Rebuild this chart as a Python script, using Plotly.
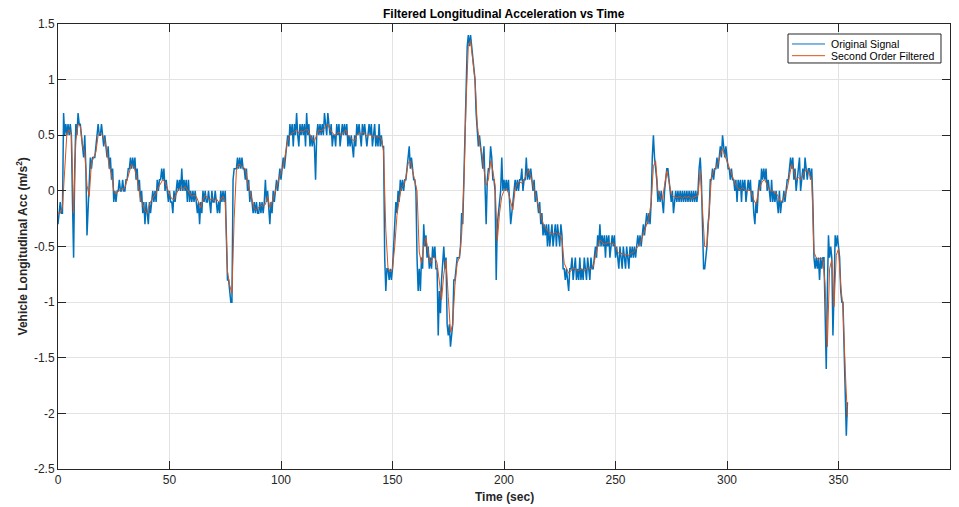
import numpy as np
import plotly.graph_objects as go

# Raw longitudinal acceleration (m/s^2), sampled every 0.5 s
orig_000_100 = [
    -0.3, -0.2, -0.1, -0.2, -0.2, 0.7, 0.5, 0.6, 0.5, 0.6, 0.5, 0.6, 0.5, -0.1, -0.6, 0.2, 0.6, 0.5, 0.7, 0.6,
    0.6, 0.5, 0.4, 0.3, 0.5, 0.2, -0.4, -0.1, 0.1, 0.3, 0.2, 0.3, 0.3, 0.3, 0.4, 0.5, 0.6, 0.5, 0.5, 0.6,
    0.5, 0.4, 0.5, 0.4, 0.3, 0.4, 0.2, 0.3, 0.1, 0.2, -0.1, 0.0, -0.1, 0.0, 0.0, 0.1, 0.0, 0.0, 0.1, 0.0,
    0.0, 0.1, 0.1, 0.2, 0.2, 0.3, 0.2, 0.3, 0.2, 0.3, 0.1, 0.2, 0.0, 0.1, -0.1, 0.0, -0.2, -0.1, -0.3, -0.1,
    -0.2, -0.3, -0.1, -0.2, -0.1, 0.0, -0.1, 0.0, -0.1, 0.1, 0.0, 0.1, 0.1, 0.2, 0.1, 0.2, 0.0, 0.1, 0.0, -0.1,
    0.0, -0.1, -0.1, -0.2, 0.0, -0.1, 0.0, 0.1, 0.0, 0.1, 0.0, 0.2, 0.0, 0.1, 0.0, 0.1, -0.1, 0.1, -0.1, 0.0,
    -0.1, 0.0, -0.1, 0.0, -0.1, -0.2, -0.1, -0.3, -0.1, -0.2, 0.0, -0.1, 0.0, -0.1, -0.1, 0.0, -0.1, -0.2, 0.0, -0.1,
    -0.1, 0.0, -0.1, -0.2, -0.1, -0.2, 0.0, -0.1, 0.0, -0.1, 0.0, -0.6, -0.8, -0.8, -0.9, -1.0, -1.0, 0.1, 0.2, 0.2,
    0.2, 0.3, 0.2, 0.3, 0.2, 0.3, 0.2, 0.2, 0.1, 0.2, 0.0, 0.1, -0.1, 0.0, -0.1, -0.2, -0.1, -0.2, -0.1, -0.2,
    -0.2, -0.1, -0.2, -0.1, -0.2, -0.1, 0.1, -0.1, 0.0, -0.2, -0.3, -0.1, -0.2, 0.0, -0.1, 0.0, 0.1, 0.0, 0.1, 0.2,
]
orig_100_200 = [
    0.1, 0.2, 0.3, 0.2, 0.3, 0.4, 0.5, 0.4, 0.6, 0.5, 0.6, 0.4, 0.6, 0.5, 0.7, 0.5, 0.4, 0.6, 0.5, 0.6,
    0.5, 0.6, 0.4, 0.7, 0.5, 0.6, 0.4, 0.5, 0.4, 0.5, 0.4, 0.1, 0.5, 0.6, 0.5, 0.6, 0.5, 0.6, 0.5, 0.7,
    0.6, 0.5, 0.7, 0.6, 0.5, 0.6, 0.4, 0.5, 0.5, 0.4, 0.6, 0.5, 0.6, 0.4, 0.5, 0.6, 0.5, 0.6, 0.5, 0.6,
    0.4, 0.5, 0.4, 0.5, 0.4, 0.3, 0.5, 0.4, 0.6, 0.5, 0.6, 0.5, 0.4, 0.6, 0.5, 0.6, 0.5, 0.4, 0.5, 0.6,
    0.5, 0.6, 0.4, 0.5, 0.6, 0.4, 0.5, 0.4, 0.6, 0.4, 0.5, 0.4, 0.4, -0.6, -0.9, -0.7, -0.7, -0.8, -0.7, -0.8,
    -0.7, -0.5, -0.3, -0.1, -0.2, 0.0, -0.1, 0.1, 0.0, 0.1, 0.0, 0.1, 0.1, 0.2, 0.3, 0.4, 0.2, 0.3, 0.2, 0.1,
    0.1, 0.0, -0.6, -0.9, -0.7, -0.9, -0.6, -0.7, -0.3, -0.5, -0.4, -0.6, -0.5, -0.7, -0.6, -0.7, -0.5, -0.6, -0.5, -0.7,
    -0.7, -1.3, -0.9, -1.1, -0.8, -0.6, -0.5, -0.7, -0.6, -1.2, -1.3, -1.2, -1.4, -1.3, -1.2, -0.8, -0.8, -0.7, -0.6, -0.6,
    -0.6, -0.5, -0.2, -0.3, 0.1, 0.5, 0.9, 1.3, 1.4, 1.3, 1.4, 1.3, 1.2, 1.1, 1.0, 0.7, 0.5, 0.4, 0.5, 0.4,
    0.3, 0.2, 0.4, 0.1, -0.3, 0.1, 0.2, 0.2, 0.4, 0.3, 0.1, 0.1, 0.0, -0.8, -0.3, -0.2, -0.1, 0.0, 0.3, 0.0,
]
orig_200_300 = [
    0.1, 0.0, 0.1, 0.0, 0.1, -0.1, -0.3, -0.2, -0.1, 0.0, 0.1, 0.0, 0.1, 0.0, 0.1, 0.1, 0.2, 0.0, 0.1, 0.1,
    0.3, 0.1, 0.2, 0.1, 0.2, 0.1, 0.0, 0.1, -0.1, 0.0, -0.1, -0.2, -0.1, -0.3, -0.2, -0.4, -0.3, -0.4, -0.3, -0.5,
    -0.3, -0.5, -0.4, -0.3, -0.5, -0.4, -0.3, -0.5, -0.3, -0.4, -0.5, -0.3, -0.4, -0.7, -0.7, -0.8, -0.7, -0.8, -0.9, -0.7,
    -0.7, -0.6, -0.8, -0.7, -0.6, -0.8, -0.7, -0.8, -0.6, -0.8, -0.7, -0.8, -0.6, -0.7, -0.8, -0.6, -0.7, -0.8, -0.6, -0.7,
    -0.7, -0.6, -0.5, -0.6, -0.4, -0.5, -0.3, -0.5, -0.4, -0.5, -0.4, -0.6, -0.4, -0.5, -0.4, -0.6, -0.5, -0.4, -0.5, -0.4,
    -0.6, -0.5, -0.6, -0.7, -0.5, -0.6, -0.7, -0.5, -0.6, -0.7, -0.5, -0.6, -0.7, -0.5, -0.6, -0.5, -0.6, -0.5, -0.6, -0.5,
    -0.4, -0.5, -0.4, -0.5, -0.4, -0.3, -0.4, -0.3, -0.2, -0.3, -0.2, -0.3, -0.1, 0.3, 0.5, 0.3, 0.2, 0.1, -0.1, 0.0,
    -0.1, 0.0, -0.1, -0.2, 0.0, 0.1, 0.2, 0.2, 0.1, 0.0, -0.1, 0.0, -0.2, -0.1, 0.0, -0.1, 0.0, -0.1, 0.0, -0.1,
    0.0, -0.1, 0.0, -0.1, 0.0, -0.1, 0.0, -0.1, 0.0, -0.1, 0.0, -0.1, 0.0, -0.1, 0.0, 0.2, 0.3, 0.1, -0.3, -0.7,
    -0.7, -0.6, -0.5, -0.3, -0.2, 0.1, 0.1, 0.2, 0.1, 0.2, 0.2, 0.3, 0.2, 0.3, 0.4, 0.3, 0.5, 0.4, 0.3, 0.4,
]
orig_300_354 = [
    0.3, 0.2, 0.2, 0.1, 0.2, 0.1, 0.1, 0.0, 0.1, -0.1, 0.1, 0.0, 0.1, -0.1, 0.1, 0.0, 0.1, -0.1, 0.0, 0.1,
    0.0, 0.1, -0.1, 0.0, -0.2, -0.3, -0.1, -0.2, 0.0, 0.1, 0.0, 0.2, 0.1, 0.2, 0.1, 0.2, 0.0, 0.1, 0.0, -0.1,
    0.1, -0.1, 0.0, -0.1, 0.0, -0.1, -0.2, 0.0, -0.2, -0.1, -0.1, 0.0, -0.1, 0.0, 0.1, 0.1, 0.2, 0.3, 0.2, 0.3,
    0.1, 0.2, 0.0, 0.1, 0.2, 0.3, 0.0, 0.1, 0.2, 0.1, 0.3, 0.2, 0.1, 0.2, 0.2, 0.1, 0.2, -0.1, -0.6, -0.7,
    -0.6, -0.7, -0.6, -0.8, -0.6, -0.7, -0.6, -0.6, -1.0, -1.6, -0.9, -0.4, -0.6, -0.5, -0.6, -1.3, -0.9, -0.4, -0.5, -0.4,
    -0.5, -0.6, -0.9, -1.0, -1.0, -1.5, -2.0, -2.2, -1.9,
]

# Second-order filtered acceleration (m/s^2), one value per second
filt_000_100 = [
    -0.20, -0.20, -0.15, 0.25, 0.52, 0.55, 0.50, -0.20, 0.45, 0.60,
    0.58, 0.40, 0.35, 0.05, -0.05, 0.25, 0.30, 0.35, 0.50, 0.52,
    0.50, 0.45, 0.35, 0.22, 0.15, 0.00, -0.03, 0.00, 0.01, 0.01,
    0.03, 0.10, 0.18, 0.24, 0.22, 0.15, 0.05, -0.08, -0.12, -0.18,
    -0.20, -0.12, -0.08, -0.05, -0.02, 0.03, 0.07, 0.10, 0.08, 0.02,
    -0.03, -0.07, -0.08, -0.03, 0.01, 0.03, 0.02, 0.04, 0.01, -0.03,
    -0.05, -0.04, -0.05, -0.10, -0.15, -0.08, -0.04, -0.06, -0.08, -0.07,
    -0.09, -0.07, -0.10, -0.08, -0.05, -0.10, -0.72, -0.85, -0.92, -0.25,
    0.18, 0.24, 0.23, 0.21, 0.20, 0.08, 0.00, -0.10, -0.16, -0.17,
    -0.15, -0.13, -0.14, -0.12, -0.05, -0.15, -0.10, -0.03, 0.03, 0.10,
]
filt_100_200 = [
    0.17, 0.22, 0.32, 0.45, 0.50, 0.52, 0.53, 0.55, 0.52, 0.54,
    0.53, 0.55, 0.55, 0.50, 0.46, 0.45, 0.50, 0.55, 0.54, 0.55,
    0.58, 0.60, 0.55, 0.52, 0.50, 0.51, 0.53, 0.50, 0.52, 0.55,
    0.50, 0.48, 0.46, 0.45, 0.50, 0.52, 0.51, 0.53, 0.50, 0.49,
    0.51, 0.48, 0.50, 0.48, 0.49, 0.47, 0.35, -0.35, -0.70, -0.73,
    -0.70, -0.50, -0.22, -0.08, 0.03, 0.05, 0.12, 0.25, 0.27, 0.18,
    0.10, 0.00, -0.55, -0.65, -0.50, -0.42, -0.55, -0.65, -0.60, -0.60,
    -0.65, -0.80, -0.98, -0.75, -0.62, -0.95, -1.27, -1.20, -0.85, -0.65,
    -0.60, -0.40, 0.05, 0.80, 1.30, 1.35, 1.20, 1.00, 0.60, 0.42,
    0.35, 0.20, 0.05, 0.10, 0.27, 0.18, 0.05, -0.45, -0.20, -0.05,
]
filt_200_300 = [
    0.00, 0.02, -0.02, -0.10, -0.17, 0.02, 0.07, 0.08, 0.07, 0.10,
    0.15, 0.19, 0.13, 0.05, -0.03, -0.10, -0.18, -0.26, -0.32, -0.35,
    -0.37, -0.38, -0.39, -0.37, -0.39, -0.38, -0.45, -0.65, -0.70, -0.74,
    -0.72, -0.69, -0.70, -0.72, -0.71, -0.70, -0.72, -0.70, -0.69, -0.70,
    -0.68, -0.58, -0.50, -0.44, -0.46, -0.48, -0.47, -0.46, -0.48, -0.47,
    -0.50, -0.55, -0.57, -0.56, -0.58, -0.57, -0.58, -0.56, -0.55, -0.53,
    -0.50, -0.47, -0.42, -0.36, -0.30, -0.24, -0.10, 0.22, 0.27, 0.00,
    -0.05, -0.08, 0.05, 0.18, 0.08, -0.03, -0.05, -0.06, -0.06, -0.05,
    -0.07, -0.05, -0.06, -0.05, -0.07, -0.06, -0.05, -0.04, 0.18, -0.15,
    -0.50, -0.50, -0.22, 0.12, 0.18, 0.22, 0.25, 0.33, 0.38, 0.32,
]
filt_300_354 = [
    0.26, 0.20, 0.15, 0.10, 0.05, 0.02, 0.01, 0.03, 0.01, 0.00,
    0.01, -0.02, -0.08, -0.12, -0.02, 0.05, 0.09, 0.10, 0.05, 0.01,
    0.00, -0.01, -0.02, -0.05, -0.10, -0.08, -0.04, 0.02, 0.15, 0.24,
    0.18, 0.10, 0.12, 0.10, 0.14, 0.18, 0.19, 0.15, 0.10, -0.55,
    -0.60, -0.62, -0.60, -0.62, -0.85, -1.40, -0.70, -0.62, -1.04, -0.58,
    -0.52, -0.85, -1.05, -1.60, -2.03,
]

x_ticks = [0, 50, 100, 150, 200, 250, 300, 350, 400]
y_ticks = [-2.5, -2, -1.5, -1, -0.5, 0, 0.5, 1, 1.5]
y_tick_text = ["-2.5", "-2", "-1.5", "-1", "-0.5", "0", "0.5", "1", "1.5"]
series_names = ["Original Signal", "Second Order Filtered"]

orig = orig_000_100 + orig_100_200 + orig_200_300 + orig_300_354
filt = filt_000_100 + filt_100_200 + filt_200_300 + filt_300_354
t_orig = np.arange(len(orig)) * 0.5
t_filt = np.arange(len(filt)) * 1.0

FONT = "Liberation Sans, Arial, Helvetica, sans-serif"
INK = "#262626"
GRID = "#e3e3e3"
BLUE = "#0072BD"
ORANGE = "#D95319"

fig = go.Figure()
fig.add_trace(go.Scatter(
    x=t_orig, y=orig, mode="lines", name=series_names[0],
    line=dict(color=BLUE, width=1.5), showlegend=False,
))
fig.add_trace(go.Scatter(
    x=t_filt, y=filt, mode="lines", name=series_names[1],
    line=dict(color=ORANGE, width=1), showlegend=False,
))

axis_common = dict(
    showline=True, linecolor=INK, linewidth=1, mirror="ticks",
    ticks="inside", ticklen=8, tickcolor=INK, tickwidth=1,
    showgrid=True, gridcolor=GRID, gridwidth=1, zeroline=False,
    tickfont=dict(family=FONT, size=12, color=INK),
)

# Compact boxed legend in the upper-right corner of the axes (paper coords)
leg_x0, leg_x1 = 0.8184, 0.9899
leg_y0, leg_y1 = 0.9124, 0.9775
row_y = [0.9551, 0.9288]
sample_x0, sample_x1 = 0.8229, 0.8599
text_x = 0.8640

shapes = [dict(type="rect", xref="paper", yref="paper",
               x0=leg_x0, x1=leg_x1, y0=leg_y0, y1=leg_y1,
               line=dict(color=INK, width=1), fillcolor="white", layer="above")]
annotations = []
for name, color, yy in zip(series_names, [BLUE, ORANGE], row_y):
    shapes.append(dict(type="line", xref="paper", yref="paper",
                       x0=sample_x0, x1=sample_x1, y0=yy, y1=yy,
                       line=dict(color=color, width=1), layer="above"))
    annotations.append(dict(text=name, xref="paper", yref="paper",
                            x=text_x, y=yy, xanchor="left", yanchor="middle",
                            showarrow=False, font=dict(family=FONT, size=10.5, color="black")))

annotations += [
    dict(text="<b>Filtered Longitudinal Acceleration vs Time</b>",
         xref="paper", yref="paper", x=0.5, y=1.0225, xanchor="center", yanchor="middle",
         showarrow=False, font=dict(family=FONT, size=12, color="black")),
    dict(text="<b>Time (sec)</b>",
         xref="paper", yref="paper", x=0.5, y=-0.063, xanchor="center", yanchor="middle",
         showarrow=False, font=dict(family=FONT, size=12, color=INK)),
    dict(text="<b>Vehicle Longitudinal Acc (m/s<sup>2</sup>)</b>",
         xref="paper", yref="paper", x=-0.0404, y=0.5, xanchor="center", yanchor="middle",
         textangle=-90, showarrow=False, font=dict(family=FONT, size=12, color=INK)),
]

fig.update_layout(
    width=959, height=507,
    margin=dict(l=58, r=9, t=24, b=38),
    paper_bgcolor="white", plot_bgcolor="white",
    showlegend=False,
    xaxis=dict(range=[0, 400], tickvals=x_ticks, **axis_common),
    yaxis=dict(range=[-2.5, 1.5], tickvals=y_ticks, ticktext=y_tick_text, **axis_common),
    shapes=shapes,
    annotations=annotations,
)

fig.write_html("out.html")
